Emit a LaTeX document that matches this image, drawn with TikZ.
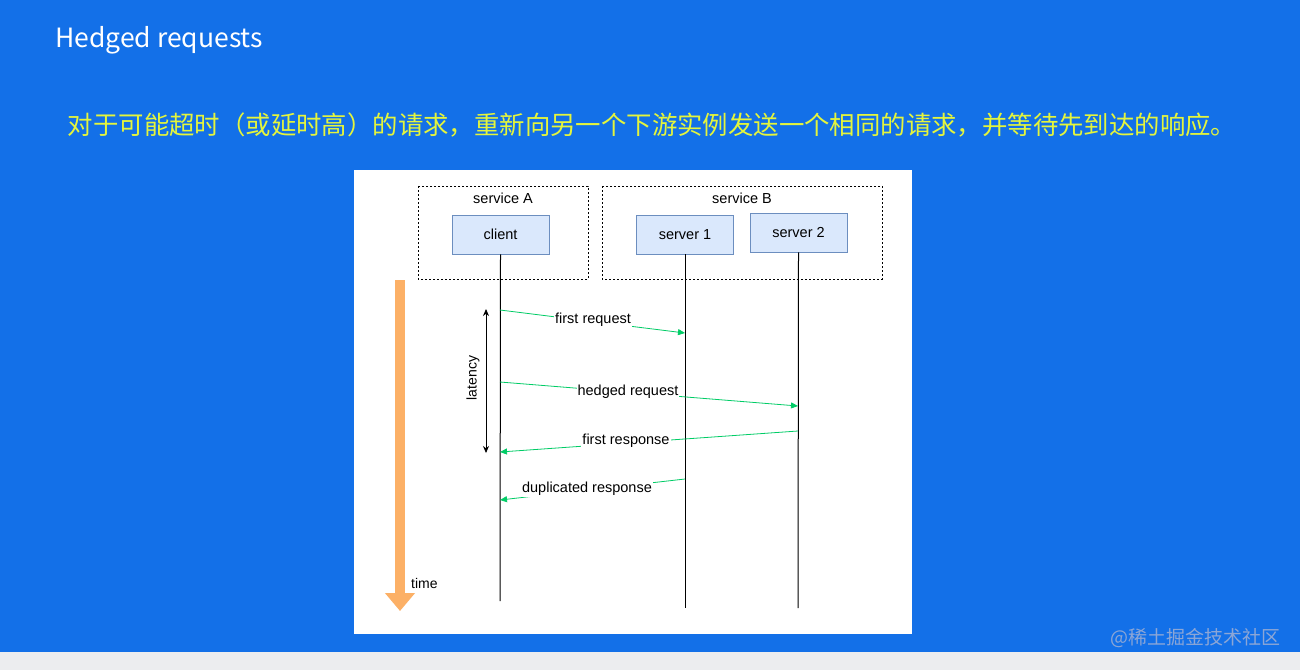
\documentclass[tikz,border=0pt]{standalone}
\usepackage{fontspec}
\setmainfont{Liberation Sans}
\newfontfamily\cjk{Noto Sans CJK SC}
\usetikzlibrary{arrows.meta}
\definecolor{bgblue}{RGB}{19,112,232}
\definecolor{bggrey}{RGB}{236,237,239}
\definecolor{hlyellow}{RGB}{228,245,60}
\definecolor{boxfill}{RGB}{218,232,252}
\definecolor{boxdraw}{RGB}{108,142,191}
\definecolor{msggreen}{RGB}{0,204,102}
\definecolor{timeorange}{RGB}{252,176,102}
\definecolor{wmark}{RGB}{140,166,214}
\tikzset{
  x=1pt,y=-1pt,
  groupbox/.style={draw=black,line width=0.8pt,dash pattern=on 2pt off 2pt},
  grouplabel/.style={font=\fontsize{14.5}{15}\selectfont,inner sep=0pt},
  actor/.style={draw=boxdraw,fill=boxfill,line width=0.8pt,minimum width=97pt,minimum height=39pt,inner sep=0pt,font=\fontsize{14.5}{15}\selectfont},
  lifeline/.style={draw=black,line width=1pt},
  msg/.style={draw=msggreen,line width=0.8pt,-{Triangle[length=7pt,width=6pt]}},
  msglabel/.style={fill=white,inner sep=1pt,font=\fontsize{14.5}{15}\selectfont},
}
\begin{document}
\begin{tikzpicture}
\useasboundingbox (0,0) rectangle (1300,670);
\fill[bgblue] (0,0) rectangle (1300,652);
\fill[bggrey] (0,652) rectangle (1300,670);
\node[anchor=base west,text=white,inner sep=0pt,font=\cjk\fontsize{26.5}{28}\selectfont] (title) at (55,47) {Hedged requests};
\node[anchor=center,text=hlyellow,inner sep=0pt,font=\cjk\fontsize{25.4}{27}\selectfont] (subtitle) at (652,125) {对于可能超时（或延时高）的请求，重新向另一个下游实例发送一个相同的请求，并等待先到达的响应。};
% diagram panel
\fill[white] (354,170) rectangle (912,634);
\draw[groupbox] (418,186) rectangle (588,279);
\draw[groupbox] (602,186) rectangle (882,279);
\node[grouplabel] (sA) at (503,198) {service A};
\node[grouplabel] (sB) at (742,198) {service B};
\node[actor] (client) at (500.5,234.5) {client};
\node[actor] (s1) at (685,234.5) {server 1};
\node[actor] (s2) at (798.5,232.5) {server 2};
\coordinate (cEnd) at (500,601);
\coordinate (s1End) at (685,608);
\coordinate (s2End) at (798,608);
\draw[lifeline] (client.south) -- (cEnd);
\draw[lifeline] (s1.south) -- (s1End);
\draw[lifeline] (s2.south) -- (s2End);
% time arrow
\coordinate (tTop) at (400,280);
\coordinate (tTip) at (400,611);
\draw[timeorange,line width=10pt,-{Triangle[length=18pt,width=29pt]}] (tTop) -- (tTip);
\node[anchor=west,inner sep=0pt,font=\fontsize{14}{15}\selectfont] (time) at (411,583) {time};
% latency
\coordinate (lTop) at (486,309);
\coordinate (lBot) at (486,453);
\draw[black,line width=0.8pt,{Stealth[length=7pt,width=6pt]}-{Stealth[length=7pt,width=6pt]}] (lTop) -- (lBot);
\node[rotate=90,inner sep=0pt,font=\fontsize{14}{15}\selectfont] (lat) at (473,378) {latency};
% messages
\coordinate (m1a) at (500,310); \coordinate (m1b) at (685,333);
\coordinate (m2a) at (500,382); \coordinate (m2b) at (798,406);
\coordinate (m3a) at (798,431); \coordinate (m3b) at (500,452);
\coordinate (m4a) at (685,479); \coordinate (m4b) at (500,500);
\draw[msg] (m1a) -- (m1b);
\draw[msg] (m2a) -- (m2b);
\draw[msg] (m3a) -- (m3b);
\draw[msg] (m4a) -- (m4b);
\node[msglabel] (l1) at (593,320) {first request};
\node[msglabel] (l2) at (628,392) {hedged request};
\node[msglabel] (l3) at (626,441) {first response};
\node[msglabel] (l4) at (587,489) {duplicated response};
% watermark
\node[anchor=east,text=wmark,inner sep=0pt,font=\cjk\fontsize{19}{20}\selectfont] (wm) at (1281,638) {@稀土掘金技术社区};
\end{tikzpicture}
\end{document}
